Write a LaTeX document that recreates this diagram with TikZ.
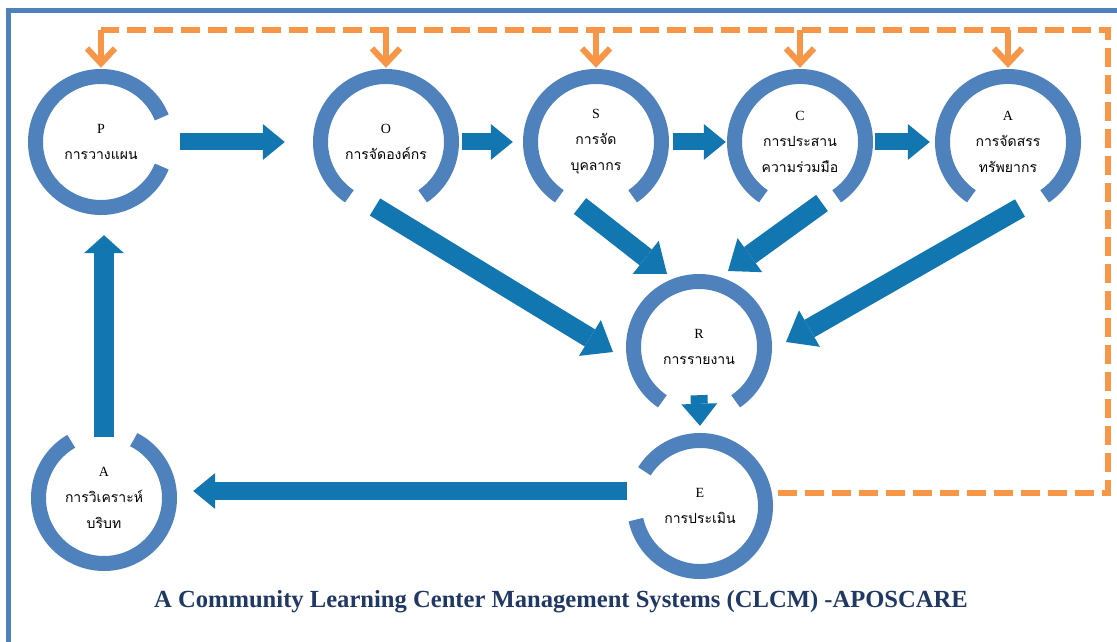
\documentclass[tikz,border=0pt]{standalone}
\usepackage{fontspec}
\setmainfont{Liberation Serif}
\newfontfamily\thaifont[Script=Thai]{Loma}
\usetikzlibrary{arrows.meta,calc}
\definecolor{ringblue}{RGB}{79,129,189}
\definecolor{flowblue}{RGB}{18,118,176}
\definecolor{fborange}{RGB}{247,150,70}
\definecolor{titlenavy}{RGB}{31,56,100}
\tikzset{stage/.style={circle,minimum size=146pt,inner sep=0pt,align=center,
  font=\fontsize{14}{26}\selectfont},
 ring/.style={line width=15pt,ringblue},
 flow/.style={line width=17pt,flowblue,-{Triangle[length=22pt,width=36pt,line width=0pt]}},
 bigflow/.style={line width=20pt,flowblue,-{Triangle[length=27pt,width=42pt,line width=0pt]}},
 fbline/.style={line width=6pt,fborange,dash pattern=on 19pt off 8pt},
 fbarrow/.style={line width=6pt,fborange,-{Straight Barb[length=15pt,width=28pt]}}}

\begin{document}
\begin{tikzpicture}[x=1pt,y=1pt]
\useasboundingbox (0,0) rectangle (1117,641);
\clip (0,0) rectangle (1117,641);
\draw[line width=4.5pt,ringblue] (8.5,-20) -- (8.5,630.5) -- (1140,630.5);
% stages
\node[stage] (P) at (101,499) {P\\{\thaifont การวางแผน}};
\node[stage] (O) at (386,499) {O\\{\thaifont การจัดองค์กร}};
\node[stage] (S) at (596,499) {S\\{\thaifont การจัด}\\{\thaifont บุคลากร}};
\node[stage] (C) at (800,499) {C\\{\thaifont การประสาน}\\{\thaifont ความร่วมมือ}};
\node[stage] (At) at (1008,499) {A\\{\thaifont การจัดสรร}\\{\thaifont ทรัพยากร}};
\node[stage] (R) at (699,294) {R\\{\thaifont การรายงาน}};
\node[stage] (E) at (700,135) {E\\{\thaifont การประเมิน}};
\node[stage] (Ab) at (104,143) {A\\{\thaifont การวิเคราะห์}\\{\thaifont บริบท}};
% open rings
\draw[ring] ([shift={(22:65.5pt)}]P.center) arc (22:338:65.5pt);
\foreach \n in {O,S,C,At,R}
  \draw[ring] ([shift={(-56:65.5pt)}]\n.center) arc (-56:236:65.5pt);
\draw[ring] ([shift={(192:65.5pt)}]E.center) arc (192:508:65.5pt);
\draw[ring] ([shift={(120:65.5pt)}]Ab.center) arc (120:423:65.5pt);
% flow arrows
\draw[flow] ([xshift=6]P.east) -- ([xshift=-28]O.west);
\draw[flow] ([xshift=3]O.east) -- ([xshift=-10]S.west);
\draw[flow] ([xshift=4]S.east) -- ([xshift=-1]C.west);
\draw[flow] ([xshift=2]C.east) -- ([xshift=-5]At.west);
\draw[bigflow] ([shift={(-11,-65)}]O.center) -- ([shift={(-86,-5)}]R.center);
\draw[bigflow] ([shift={(-16,-64)}]S.center) -- ([shift={(-32,73)}]R.center);
\draw[bigflow] ([shift={(22,-61)}]C.center) -- ([shift={(29,76)}]R.center);
\draw[bigflow] ([shift={(12,-66)}]At.center) -- ([shift={(87,5)}]R.center);
\draw[flow] ([yshift=25]R.south) -- ([yshift=7]E.north);
\draw[flow,line width=18pt] ([yshift=15]E.west) -- ([xshift=16,yshift=7]Ab.east);
\coordinate (upfoot) at ([yshift=-12]Ab.north);
\draw[bigflow,-{Triangle[length=18pt,width=40pt,line width=0pt]}] (upfoot) -- ([yshift=-20]upfoot |- P.south);
% feedback
\coordinate (fbturn) at (1108,611);
\coordinate (fbstart) at ([shift={(5,13)}]E.east);
\draw[fbline] (fbstart) -- (fbstart -| fbturn) -- (fbturn) -- (P.north |- fbturn);
\foreach \n in {P,O,S,C,At}
  \draw[fbarrow] (\n.north |- fbturn) -- ([yshift=1]\n.north);
\node[font=\fontsize{24.6}{28}\selectfont\bfseries,titlenavy] (title) at (561,39)
  {A Community Learning Center Management Systems (CLCM) -APOSCARE};
\end{tikzpicture}
\end{document}
